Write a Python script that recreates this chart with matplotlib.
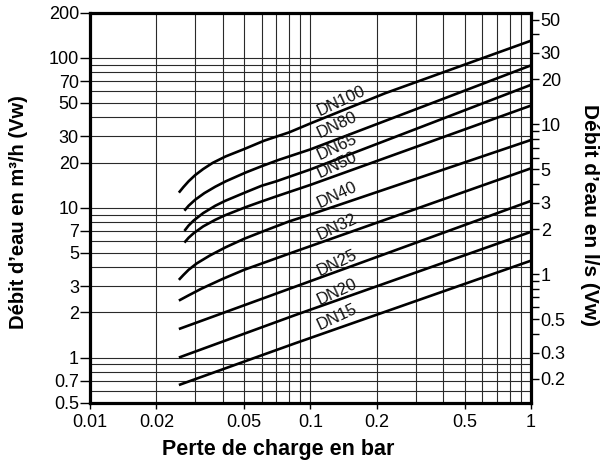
import matplotlib
matplotlib.use("Agg")
import matplotlib.pyplot as plt
from matplotlib.ticker import FixedLocator, NullFormatter, NullLocator

plt.rcParams["font.family"] = ["Liberation Sans", "DejaVu Sans"]

# Pressure drop (bar) / flow (m3/h)
dn_names = ["DN100", "DN80", "DN65", "DN50", "DN40", "DN32", "DN25", "DN20", "DN15"]

dn100_x = [0.0253, 0.0265, 0.028, 0.030, 0.0326, 0.036, 0.0413, 0.05, 0.0617, 0.08, 0.1, 0.218, 1.0]
dn100_y = [12.6, 13.7, 15.0, 16.5, 18.1, 19.9, 22.0, 24.6, 28.0, 31.8, 36.5, 58.0, 130.0]

dn80_x = [0.0268, 0.028, 0.030, 0.033, 0.037, 0.0413, 0.051, 0.06, 0.0715, 0.1, 1.0]
dn80_y = [9.55, 10.3, 11.3, 12.5, 13.8, 15.0, 17.2, 18.9, 20.8, 24.5, 89.0]

dn65_x = [0.0268, 0.028, 0.0295, 0.0326, 0.037, 0.041, 0.051, 0.06, 0.07, 0.1, 1.0]
dn65_y = [7.0, 7.6, 8.2, 9.2, 10.3, 11.1, 12.7, 14.0, 15.0, 18.0, 66.0]

dn50_x = [0.0268, 0.028, 0.0295, 0.0326, 0.037, 0.041, 0.051, 0.06, 0.07, 0.1, 1.0]
dn50_y = [5.85, 6.3, 6.75, 7.5, 8.3, 8.9, 10.1, 11.0, 11.9, 14.2, 48.0]

dn40_x = [0.0253, 0.0265, 0.028, 0.0305, 0.035, 0.0413, 0.05, 0.0617, 0.08, 0.1, 1.0]
dn40_y = [3.3, 3.55, 3.85, 4.25, 4.8, 5.45, 6.2, 7.0, 8.1, 9.0, 28.3]

dn32_x = [0.0253, 0.028, 0.032, 0.04, 0.05, 0.0852, 1.0]
dn32_y = [2.4, 2.6, 2.88, 3.35, 3.85, 5.1, 18.3]

dn25_x = [0.0253, 0.0852, 1.0]
dn25_y = [1.55, 2.97, 11.1]

dn20_x = [0.0253, 0.0852, 1.0]
dn20_y = [1.0, 1.92, 6.9]

dn15_x = [0.0253, 0.0852, 1.0]
dn15_y = [0.656, 1.245, 4.43]

curves_x = [dn100_x, dn80_x, dn65_x, dn50_x, dn40_x, dn32_x, dn25_x, dn20_x, dn15_x]
curves_y = [dn100_y, dn80_y, dn65_y, dn50_y, dn40_y, dn32_y, dn25_y, dn20_y, dn15_y]

# label anchor points (bar, m3/h)
label_x = [0.1385, 0.1315, 0.1315, 0.1315, 0.1315, 0.1315, 0.1315, 0.1315, 0.1315]
label_y = [51.8, 35.6, 25.3, 19.3, 12.2, 7.47, 4.26, 2.75, 1.87]

# axes ticks and grid
x_ticks = [0.01, 0.02, 0.05, 0.1, 0.2, 0.5, 1]
x_tick_labels = ["0.01", "0.02", "0.05", "0.1", "0.2", "0.5", "1"]
x_grid = [0.02, 0.03, 0.04, 0.05, 0.06, 0.07, 0.08, 0.09,
          0.1, 0.2, 0.3, 0.4, 0.5, 0.6, 0.7, 0.8, 0.9]

y_ticks = [0.5, 0.7, 1, 2, 3, 5, 7, 10, 20, 30, 50, 70, 100, 200]
y_tick_labels = ["0.5", "0.7", "1", "2", "3", "5", "7", "10", "20", "30", "50", "70", "100", "200"]
y_grid = [0.6, 0.7, 0.8, 0.9, 1, 2, 3, 4, 5, 6, 7, 8, 9, 10,
          20, 30, 40, 50, 60, 70, 80, 90, 100]

ls_ticks = [0.2, 0.3, 0.5, 1, 2, 3, 5, 10, 20, 30, 50]
ls_tick_labels = ["0.2", "0.3", "0.5", "1", "2", "3", "5", "10", "20", "30", "50"]
ls_minor = [0.4, 0.6, 0.7, 0.8, 0.9, 4, 6, 7, 8, 9, 40]

fig = plt.figure(figsize=(6.02, 4.61), dpi=100)
ax = fig.add_axes([0.1495, 0.1265, 0.7325, 0.846])

ax.set_xscale("log")
ax.set_yscale("log")
ax.set_xlim(0.01, 1)
ax.set_ylim(0.5, 200)

for xv in x_grid:
    ax.axvline(xv, color="#2a2a2a", lw=0.8, zorder=1)
for yv in y_grid:
    ax.axhline(yv, color="#2a2a2a", lw=0.8, zorder=1)

for xs, ys in zip(curves_x, curves_y):
    ax.plot(xs, ys, color="black", lw=1.9, solid_capstyle="butt",
            solid_joinstyle="round", zorder=3)

for name, lx, ly in zip(dn_names, label_x, label_y):
    ax.text(lx, ly, name, fontsize=12, rotation=25, rotation_mode="anchor",
            ha="center", va="center", color="#111111", zorder=4)

ax.xaxis.set_major_locator(FixedLocator(x_ticks))
ax.set_xticklabels(x_tick_labels)
ax.xaxis.set_minor_locator(NullLocator())
ax.xaxis.set_minor_formatter(NullFormatter())
ax.yaxis.set_major_locator(FixedLocator(y_ticks))
ax.set_yticklabels(y_tick_labels)
ax.yaxis.set_minor_locator(NullLocator())
ax.yaxis.set_minor_formatter(NullFormatter())

ax.tick_params(axis="x", direction="out", length=4, width=1, pad=4, labelsize=13)
ax.tick_params(axis="y", direction="out", length=7, width=1, pad=1, labelsize=13)

for sp in ax.spines.values():
    sp.set_linewidth(2.3)
    sp.set_zorder(5)

# right axis in l/s
ax2 = ax.twinx()
ax2.set_yscale("log")
ax2.set_ylim(0.5 / 3.6, 200 / 3.6)
ax2.yaxis.set_major_locator(FixedLocator(ls_ticks))
ax2.set_yticklabels(ls_tick_labels)
ax2.yaxis.set_minor_locator(FixedLocator(ls_minor))
ax2.yaxis.set_minor_formatter(NullFormatter())
ax2.tick_params(axis="y", which="major", direction="out", length=6, width=1, pad=1, labelsize=13)
ax2.tick_params(axis="y", which="minor", direction="out", length=6, width=1)
for sp in ax2.spines.values():
    sp.set_visible(False)

fig.text(0.462, 0.026, "Perte de charge en bar", fontsize=15.5,
         fontweight="bold", ha="center", va="center")
fig.text(0.030, 0.540, "Débit d’eau en m³/h (Vw)", rotation=90, fontsize=14.5,
         fontweight="bold", ha="center", va="center")
fig.text(0.980, 0.534, "Débit d’eau en l/s (Vw)", rotation=270, fontsize=15,
         fontweight="bold", ha="center", va="center")

fig.savefig("out.png", dpi=100, facecolor="white")
